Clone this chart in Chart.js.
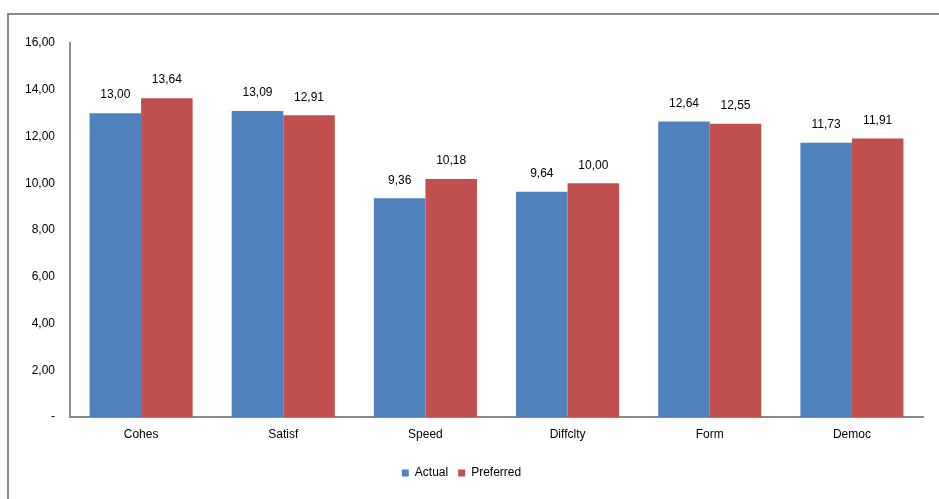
<!DOCTYPE html>
<html>
<head>
<meta charset="utf-8">
<script src="https://cdn.jsdelivr.net/npm/chart.js@4"></script>
<style>
  html, body { margin: 0; padding: 0; background: #fff; }
  #wrap { width: 939px; height: 499px; }
</style>
</head>
<body>
<div id="wrap"><canvas id="myChart" width="939" height="499"></canvas></div>
<script>
const categories = ["Cohes", "Satisf", "Speed", "Diffclty", "Form", "Democ"];
const actual = [13.00, 13.09, 9.36, 9.64, 12.64, 11.73];
const preferred = [13.64, 12.91, 10.18, 10.00, 12.55, 11.91];

const fmt = v => v === 0 ? "-" : v.toFixed(2).replace(".", ",");
const FONT = "'Liberation Sans', Arial, sans-serif";

// outer frame of the chart
const framePlugin = {
    id: "frame",
    beforeDraw(chart) {
        const ctx = chart.ctx;
        ctx.save();
        ctx.fillStyle = "#fff";
        ctx.fillRect(0, 0, chart.width, chart.height);
        ctx.strokeStyle = "#8a8a8a";
        ctx.lineWidth = 2;
        ctx.strokeRect(8, 14, chart.width, chart.height);
        ctx.restore();
    }
};

// value labels above the bars
const valueLabels = {
    id: "valueLabels",
    afterDatasetsDraw(chart) {
        const ctx = chart.ctx;
        ctx.save();
        ctx.font = "12px " + FONT;
        ctx.fillStyle = "#000";
        ctx.textAlign = "center";
        ctx.textBaseline = "bottom";
        chart.data.datasets.forEach((ds, i) => {
            chart.getDatasetMeta(i).data.forEach((bar, j) => {
                ctx.fillText(fmt(ds.data[j]), bar.x, bar.y - 12);
            });
        });
        ctx.restore();
    }
};

Chart.defaults.font.family = FONT;
Chart.defaults.font.size = 12;
Chart.defaults.color = "#000";

new Chart(document.getElementById("myChart"), {
    type: "bar",
    data: {
        labels: categories,
        datasets: [
            {
                label: "Actual",
                data: actual,
                backgroundColor: "#4f81bd",
                borderWidth: 0
            },
            {
                label: "Preferred",
                data: preferred,
                backgroundColor: "#c0504d",
                borderWidth: 0
            }
        ]
    },
    options: {
        animation: false,
        responsive: false,
        layout: { padding: { top: 43, right: 16, left: 0, bottom: 10 } },
        categoryPercentage: 0.725,
        barPercentage: 1.0,
        plugins: {
            legend: {
                position: "bottom",
                labels: { boxWidth: 7, boxHeight: 7, padding: 10, font: { size: 12 } }
            },
            tooltip: { enabled: false }
        },
        scales: {
            x: {
                grid: { display: false, drawTicks: false },
                border: { color: "#8a8a8a", width: 2 },
                ticks: { padding: 10 },
                afterFit: s => { s.height = 40; }
            },
            y: {
                min: 0,
                max: 16,
                grid: { display: false, drawTicks: false },
                border: { color: "#8a8a8a", width: 2 },
                ticks: { stepSize: 2, padding: 15, callback: v => fmt(v) },
                afterFit: s => { s.width = 70; }
            }
        }
    },
    plugins: [framePlugin, valueLabels]
});
</script>
</body>
</html>
